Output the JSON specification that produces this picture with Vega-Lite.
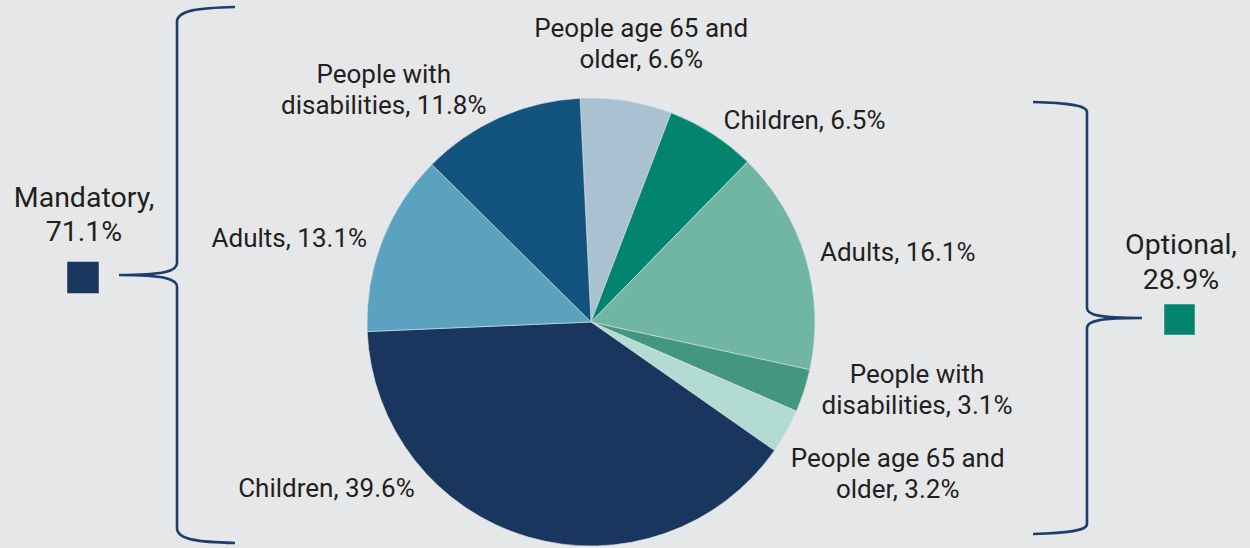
{
  "$schema": "https://vega.github.io/schema/vega-lite/v6.json",
  "width": 1250,
  "height": 548,
  "padding": 0,
  "autosize": "none",
  "background": "#e6e7e9",
  "config": {
    "view": {"stroke": null},
    "text": {"font": "Roboto", "fontSize": 26, "color": "#231f20", "lineHeight": 31, "lineBreak": "\n", "baseline": "middle"}
  },
  "datasets": {
    "slices": [
      {"idx": 0, "slice": "Mandatory: People age 65 and older", "value": 6.6, "label": "People age 65 and\nolder, 6.6%"},
      {"idx": 1, "slice": "Optional: Children", "value": 6.5, "label": "Children, 6.5%"},
      {"idx": 2, "slice": "Optional: Adults", "value": 16.1, "label": "Adults, 16.1%"},
      {"idx": 3, "slice": "Optional: People with disabilities", "value": 3.1, "label": "People with\ndisabilities, 3.1%"},
      {"idx": 4, "slice": "Optional: People age 65 and older", "value": 3.2, "label": "People age 65 and\nolder, 3.2%"},
      {"idx": 5, "slice": "Mandatory: Children", "value": 39.6, "label": "Children, 39.6%"},
      {"idx": 6, "slice": "Mandatory: Adults", "value": 13.1, "label": "Adults, 13.1%"},
      {"idx": 7, "slice": "Mandatory: People with disabilities", "value": 11.8, "label": "People with\ndisabilities, 11.8%"}
    ],
    "groups": [
      {"group": "Mandatory", "label": "Mandatory,\n71.1%"},
      {"group": "Optional", "label": "Optional,\n28.9%"}
    ]
  },
  "layer": [
    {
      "data": {"name": "slices"},
      "encoding": {
        "theta": {"field": "value", "type": "quantitative", "stack": true, "scale": {"domain": [0, 100], "range": [-0.0489, 6.2343]}},
        "order": {"field": "idx", "type": "quantitative"},
        "x": {"datum": 591, "type": "quantitative", "scale": {"domain": [0, 1250], "nice": false, "zero": false}, "axis": null},
        "y": {"datum": 322, "type": "quantitative", "scale": {"domain": [0, 548], "nice": false, "zero": false, "reverse": true}, "axis": null}
      },
      "layer": [
        {
          "mark": {"type": "arc", "outerRadius": 224, "stroke": "#dfe3e6", "strokeWidth": 0.6},
          "encoding": {
            "color": {
              "field": "slice", "type": "nominal", "legend": null,
              "scale": {
                "domain": ["Mandatory: People age 65 and older", "Optional: Children", "Optional: Adults", "Optional: People with disabilities", "Optional: People age 65 and older", "Mandatory: Children", "Mandatory: Adults", "Mandatory: People with disabilities"],
                "range": ["#a9c1d0", "#03856d", "#71b5a5", "#43977f", "#b2dbd3", "#19365e", "#5ba2c0", "#13547f"]
              }
            }
          }
        },
        {"mark": {"type": "text", "radius": 280, "align": "center", "dx": 6, "dy": -16.5}, "encoding": {"detail": {"field": "idx"}, "text": {"condition": {"test": "datum.idx === 0", "field": "label"}, "value": ""}}},
        {"mark": {"type": "text", "radius": 240, "align": "left", "dx": 3, "dy": 1}, "encoding": {"detail": {"field": "idx"}, "text": {"condition": {"test": "datum.idx === 1", "field": "label"}, "value": ""}}},
        {"mark": {"type": "text", "radius": 239, "align": "left", "dx": 0, "dy": -0.5}, "encoding": {"detail": {"field": "idx"}, "text": {"condition": {"test": "datum.idx === 2", "field": "label"}, "value": ""}}},
        {"mark": {"type": "text", "radius": 330, "align": "center", "dx": 12, "dy": -48.5}, "encoding": {"detail": {"field": "idx"}, "text": {"condition": {"test": "datum.idx === 3", "field": "label"}, "value": ""}}},
        {"mark": {"type": "text", "radius": 340, "align": "center", "dx": 10, "dy": -29.5}, "encoding": {"detail": {"field": "idx"}, "text": {"condition": {"test": "datum.idx === 4", "field": "label"}, "value": ""}}},
        {"mark": {"type": "text", "radius": 240, "align": "right", "dx": -109, "dy": -63}, "encoding": {"detail": {"field": "idx"}, "text": {"condition": {"test": "datum.idx === 5", "field": "label"}, "value": ""}}},
        {"mark": {"type": "text", "radius": 238.5, "align": "right", "dx": -1.5, "dy": 3}, "encoding": {"detail": {"field": "idx"}, "text": {"condition": {"test": "datum.idx === 6", "field": "label"}, "value": ""}}},
        {"mark": {"type": "text", "radius": 300, "align": "center", "dx": -85, "dy": 27}, "encoding": {"detail": {"field": "idx"}, "text": {"condition": {"test": "datum.idx === 7", "field": "label"}, "value": ""}}}
      ]
    },
    {
      "data": {"name": "groups"},
      "transform": [{"filter": "datum.group === 'Mandatory'"}],
      "layer": [
        {
          "mark": {"type": "point", "filled": false, "stroke": "#1c3d6e", "strokeWidth": 2.6, "opacity": 1, "size": 287296,
            "shape": "M0.2164,-1C0.0821,-0.9963,0,-0.9888,0,-0.944L0,-0.0448C0,-0.0149,-0.0448,0,-0.2164,0C-0.0448,0,0,0.0149,0,0.0448L0,0.944C0,0.9888,0.0821,0.9963,0.2164,1"},
          "encoding": {
            "x": {"datum": 177, "type": "quantitative"},
            "y": {"datum": 275, "type": "quantitative"}
          }
        },
        {
          "mark": {"type": "point", "shape": "square", "filled": true, "color": "#19365e", "opacity": 1, "size": 992},
          "encoding": {
            "x": {"datum": 83, "type": "quantitative"},
            "y": {"datum": 277.5, "type": "quantitative"}
          }
        },
        {
          "mark": {"type": "text", "align": "center", "fontSize": 28.5, "lineHeight": 34},
          "encoding": {
            "x": {"datum": 84, "type": "quantitative"},
            "y": {"datum": 198, "type": "quantitative"},
            "text": {"field": "label"}
          }
        }
      ]
    },
    {
      "data": {"name": "groups"},
      "transform": [{"filter": "datum.group === 'Optional'"}],
      "layer": [
        {
          "mark": {"type": "point", "filled": false, "stroke": "#1c3d6e", "strokeWidth": 2.6, "opacity": 1, "size": 186624,
            "shape": "M-0.25,-1C-0.0926,-0.9954,0,-0.9861,0,-0.9537L0,-0.0463C0,-0.0139,0.0556,0,0.2546,0C0.0556,0,0,0.0139,0,0.0463L0,0.9537C0,0.9861,-0.0926,0.9954,-0.25,1"},
          "encoding": {
            "x": {"datum": 1087, "type": "quantitative"},
            "y": {"datum": 318, "type": "quantitative"}
          }
        },
        {
          "mark": {"type": "point", "shape": "square", "filled": true, "color": "#03856d", "opacity": 1, "size": 930},
          "encoding": {
            "x": {"datum": 1179.5, "type": "quantitative"},
            "y": {"datum": 319.5, "type": "quantitative"}
          }
        },
        {
          "mark": {"type": "text", "align": "center", "fontSize": 28.5, "lineHeight": 35},
          "encoding": {
            "x": {"datum": 1181, "type": "quantitative"},
            "y": {"datum": 245, "type": "quantitative"},
            "text": {"field": "label"}
          }
        }
      ]
    }
  ]
}
